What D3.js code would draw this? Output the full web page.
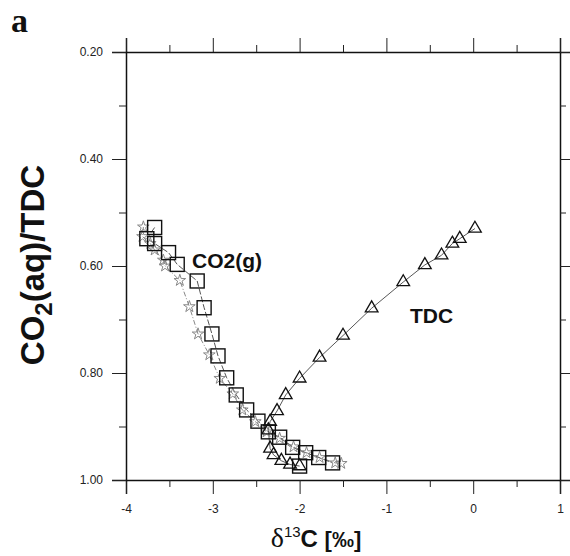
<!DOCTYPE html>
<html>
<head>
<meta charset="utf-8">
<script src="https://cdn.jsdelivr.net/npm/d3@7"></script>
<style>
  body { margin: 0; background: #fff; }
  svg { display: block; font-family: "Liberation Sans", Arial, sans-serif; }
</style>
</head>
<body>
<div id="chart"></div>
<script>
// data
const tdcX = [0.02, -0.155, -0.24, -0.365, -0.557, -0.806, -1.17, -1.50, -1.77, -2.00, -2.16, -2.26, -2.34, -2.36, -2.34, -2.30, -2.21, -2.11, -2.00];
const tdcY = [0.530, 0.549, 0.558, 0.580, 0.598, 0.630, 0.679, 0.730, 0.771, 0.810, 0.841, 0.871, 0.891, 0.907, 0.941, 0.953, 0.964, 0.971, 0.974];

const co2gX = [-3.67, -3.76, -3.67, -3.51, -3.41, -3.18, -3.10, -3.01, -2.94, -2.84, -2.73, -2.61, -2.48, -2.36, -2.23, -2.08, -1.93, -1.78, -1.62];
const co2gY = [0.528, 0.549, 0.558, 0.575, 0.597, 0.628, 0.678, 0.727, 0.768, 0.809, 0.841, 0.869, 0.890, 0.910, 0.920, 0.939, 0.949, 0.958, 0.968];
const extraSqX = [-2.00];
const extraSqY = [0.974];

const starX = [-3.80, -3.81, -3.72, -3.67, -3.57, -3.55, -3.38, -3.27, -3.17, -3.04, -2.92, -2.77, -2.66, -2.51, -2.38, -2.23, -2.07, -1.92, -1.77, -1.59, -1.52];
const starY = [0.527, 0.545, 0.558, 0.570, 0.589, 0.600, 0.627, 0.676, 0.727, 0.766, 0.810, 0.839, 0.869, 0.891, 0.910, 0.922, 0.938, 0.949, 0.958, 0.968, 0.969];

const xMajor = [-4, -3, -2, -1, 0, 1];
const xMinor = [-3.5, -2.5, -1.5, -0.5, 0.5];
const yMajor = [0.2, 0.4, 0.6, 0.8, 1.0];
const yMinor = [0.3, 0.5, 0.7, 0.9];

const width = 570, height = 556;
const svg = d3.select("#chart").append("svg")
    .attr("width", width)
    .attr("height", height);

const x = d3.scaleLinear().domain([-4, 1]).range([126, 560]);
const y = d3.scaleLinear().domain([0.2, 1.0]).range([52, 480]);

const zip = (a, b) => a.map((v, i) => [v, b[i]]);
const tdc = zip(tdcX, tdcY), co2g = zip(co2gX, co2gY), stars = zip(starX, starY), extra = zip(extraSqX, extraSqY);

// axes
function styleAxis(g) {
  g.select(".domain").attr("stroke", "#111").attr("stroke-width", 1.5);
  g.selectAll(".tick line").attr("stroke", "#222").attr("stroke-width", 1);
  g.selectAll(".tick text").attr("fill", "#222").style("font-size", "12px");
}

svg.append("g").attr("transform", "translate(0,480)")
  .call(d3.axisBottom(x).tickValues(xMajor).tickSize(14).tickPadding(10).tickFormat(d => String(d)))
  .call(styleAxis);
svg.append("g").attr("transform", "translate(0,480)")
  .call(d3.axisBottom(x).tickValues(xMinor).tickSize(7).tickFormat(""))
  .call(g => g.select(".domain").remove()).call(styleAxis);

svg.append("g").attr("transform", "translate(0,52)")
  .call(d3.axisTop(x).tickValues(xMajor).tickSize(14).tickFormat(""))
  .call(styleAxis);
svg.append("g").attr("transform", "translate(0,52)")
  .call(d3.axisTop(x).tickValues(xMinor).tickSize(7).tickFormat(""))
  .call(g => g.select(".domain").remove()).call(styleAxis);

svg.append("g").attr("transform", "translate(126,0)")
  .call(d3.axisLeft(y).tickValues(yMajor).tickSize(14).tickPadding(9).tickFormat(d3.format(".2f")))
  .call(styleAxis);
svg.append("g").attr("transform", "translate(126,0)")
  .call(d3.axisLeft(y).tickValues(yMinor).tickSize(7).tickFormat(""))
  .call(g => g.select(".domain").remove()).call(styleAxis);

svg.append("g").attr("transform", "translate(560,0)")
  .call(d3.axisRight(y).tickValues(yMajor).tickSize(10).tickFormat(""))
  .call(styleAxis);
svg.append("g").attr("transform", "translate(560,0)")
  .call(d3.axisRight(y).tickValues(yMinor).tickSize(6).tickFormat(""))
  .call(g => g.select(".domain").remove()).call(styleAxis);

// lines
const line = d3.line().x(d => x(d[0])).y(d => y(d[1]));

svg.append("path").datum(stars)
  .attr("d", line).attr("fill", "none")
  .attr("stroke", "#888").attr("stroke-width", 1).attr("stroke-dasharray", "5,2,1,2");

svg.append("path").datum(co2g)
  .attr("d", line).attr("fill", "none")
  .attr("stroke", "#555").attr("stroke-width", 1).attr("stroke-dasharray", "6,2");

svg.append("path").datum(tdc)
  .attr("d", line).attr("fill", "none")
  .attr("stroke", "#444").attr("stroke-width", 0.9);

// markers
svg.append("g").selectAll("path")
  .data(stars).join("path")
  .attr("transform", d => `translate(${x(d[0])},${y(d[1])})`)
  .attr("d", d3.symbol(d3.symbolStar, 42))
  .attr("fill", "none").attr("stroke", "#888").attr("stroke-width", 1);

svg.append("g").selectAll("rect")
  .data(co2g.concat(extra)).join("rect")
  .attr("x", d => x(d[0]) - 7).attr("y", d => y(d[1]) - 7)
  .attr("width", 14).attr("height", 14)
  .attr("fill", "none").attr("stroke", "#111").attr("stroke-width", 1.4);

svg.append("g").selectAll("path")
  .data(tdc).join("path")
  .attr("transform", d => `translate(${x(d[0])},${y(d[1])})`)
  .attr("d", d3.symbol(d3.symbolTriangle, 70))
  .attr("fill", "none").attr("stroke", "#111").attr("stroke-width", 1.3);

// series labels
svg.append("text").attr("x", 192).attr("y", 268)
  .style("font-size", "21px").style("font-weight", "bold").attr("fill", "#111")
  .text("CO2(g)");
svg.append("text").attr("x", 410).attr("y", 323)
  .style("font-size", "21px").style("font-weight", "bold").attr("fill", "#111")
  .text("TDC");

// panel letter
svg.append("text").attr("x", 11).attr("y", 32)
  .style("font-family", "'Liberation Serif', 'Times New Roman', serif")
  .style("font-size", "34px").style("font-weight", "bold").attr("fill", "#111")
  .text("a");

// y title
const yt = svg.append("text")
  .attr("transform", "translate(44,265) rotate(-90)")
  .attr("text-anchor", "middle")
  .style("font-size", "33px").style("font-weight", "bold").attr("fill", "#111");
yt.append("tspan").text("CO");
yt.append("tspan").attr("dy", 8).style("font-size", "24px").text("2");
yt.append("tspan").attr("dy", -8).text("(aq)/TDC");

// x title
const xt = svg.append("text")
  .attr("x", 316).attr("y", 547)
  .attr("text-anchor", "middle")
  .attr("fill", "#111");
xt.append("tspan")
  .style("font-family", "'Liberation Serif', 'Times New Roman', serif")
  .style("font-size", "28px").text("δ");
xt.append("tspan").attr("dy", -10).style("font-size", "15px").text("13");
xt.append("tspan").attr("dy", 10).style("font-size", "24px").style("font-weight", "bold").text("C ");
xt.append("tspan").style("font-size", "22px").style("font-weight", "bold").text("[‰]");
</script>
</body>
</html>
